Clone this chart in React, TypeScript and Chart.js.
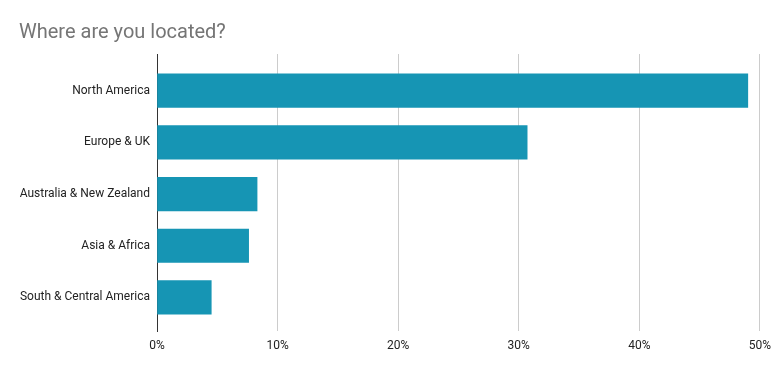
import React, { useEffect, useRef } from "react";
import { Chart, registerables } from "chart.js";

Chart.register(...registerables);

const categories: string[] = [
  "North America",
  "Europe & UK",
  "Australia & New Zealand",
  "Asia & Africa",
  "South & Central America",
];
const percentages: number[] = [49.0, 30.7, 8.3, 7.6, 4.5];
const xTicks: number[] = [0, 10, 20, 30, 40, 50];
const titleText = "Where are you located?";

export default function App() {
  const ref = useRef<HTMLCanvasElement | null>(null);

  useEffect(() => {
    if (!ref.current) return;
    const chart = new Chart(ref.current, {
      type: "bar",
      data: {
        datasets: [
          {
            data: percentages.map((v, i) => ({ x: v, y: i })),
            backgroundColor: "#1695b4",
            borderWidth: 0,
            barThickness: 33.5,
          },
        ],
      },
      options: {
        indexAxis: "y",
        animation: false,
        responsive: true,
        maintainAspectRatio: false,
        layout: { padding: { left: 19, right: 19, top: 0, bottom: 0 } },
        plugins: {
          legend: { display: false },
          tooltip: { enabled: false },
          title: {
            display: true,
            text: titleText,
            align: "start",
            color: "#757575",
            font: { family: "Roboto", size: 20, weight: "normal" },
            padding: { top: 21, bottom: 9 },
          },
        },
        scales: {
          x: {
            type: "linear",
            min: 0,
            max: 50,
            afterBuildTicks: (scale: any) => {
              scale.ticks = xTicks.map((v) => ({ value: v }));
            },
            afterFit: (scale: any) => {
              scale.height = 40;
            },
            ticks: {
              color: "#222222",
              font: { family: "Roboto", size: 12 },
              padding: 8,
              callback: (v: any) => v + "%",
              maxRotation: 0,
            },
            grid: {
              color: (ctx: any) => (ctx.tick && ctx.tick.value === 0 ? "#333333" : "#cccccc"),
              drawTicks: false,
              lineWidth: 1,
            },
            border: { display: false },
          },
          y: {
            type: "linear",
            reverse: true,
            offset: false,
            min: -0.71,
            max: 4.65,
            afterBuildTicks: (scale: any) => {
              scale.ticks = categories.map((_, i) => ({ value: i }));
            },
            afterFit: (scale: any) => {
              scale.width = 138;
            },
            ticks: {
              color: "#222222",
              font: { family: "Roboto", size: 12 },
              padding: 7,
              callback: (v: any) => categories[v as number] ?? "",
            },
            grid: { display: false, drawTicks: false },
            border: { display: true, color: "#333333", width: 1 },
          },
        },
      } as any,
    });
    return () => chart.destroy();
  }, []);

  return (
    <div style={{ position: "fixed", left: 0, top: 0, width: 779, height: 371, background: "#fff" }}>
      <canvas ref={ref} />
    </div>
  );
}
